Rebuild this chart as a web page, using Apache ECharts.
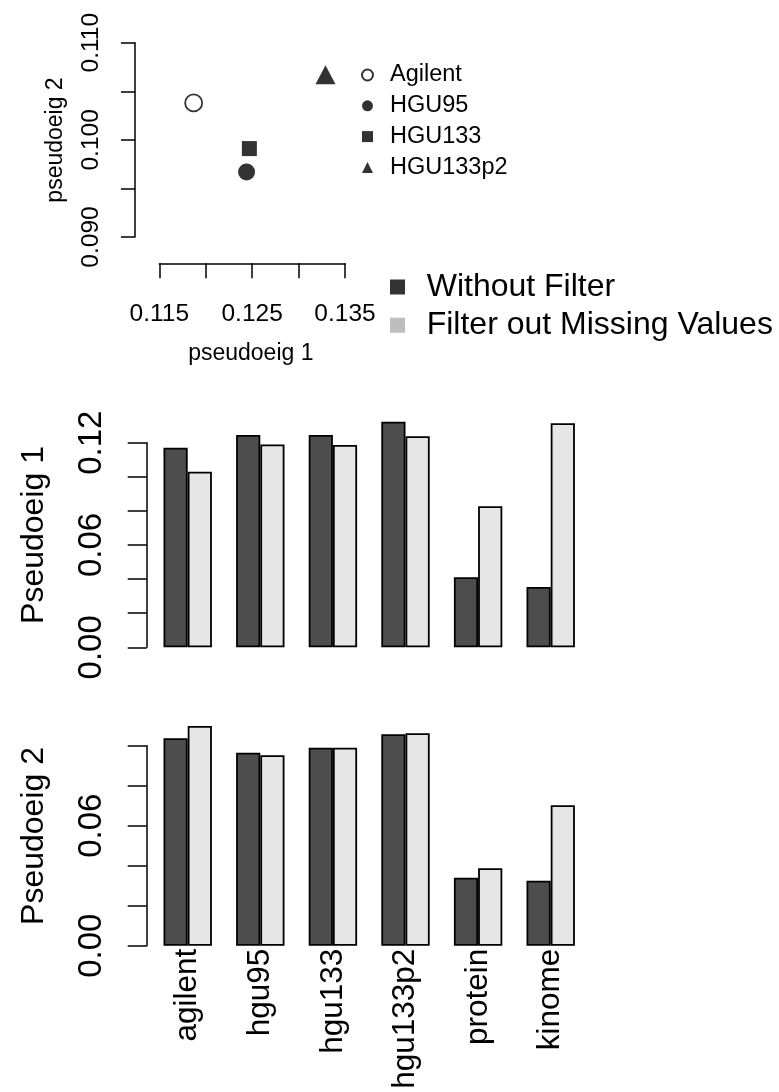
<!DOCTYPE html>
<html>
<head>
<meta charset="utf-8">
<script src="https://cdn.jsdelivr.net/npm/echarts@6/dist/echarts.min.js"></script>
<style>
html,body{margin:0;padding:0;background:#fff;}
#chart{width:779px;height:1092px;}
</style>
</head>
<body>
<div id="chart"></div>
<script>
// ---------- data ----------
const arrayNames = ['Agilent', 'HGU95', 'HGU133', 'HGU133p2'];
const pseudo1 = [0.1187, 0.1244, 0.1247, 0.1329];
const pseudo2 = [0.1038, 0.0967, 0.0991, 0.1064];

const platforms = ['agilent', 'hgu95', 'hgu133', 'hgu133p2', 'protein', 'kinome'];
const seriesNames = ['Without Filter', 'Filter out Missing Values'];
const eig1Without = [0.1171, 0.1245, 0.1245, 0.1323, 0.0411, 0.0354];
const eig1Filter  = [0.1030, 0.1190, 0.1187, 0.1238, 0.0827, 0.1314];
const eig2Without = [0.1037, 0.0965, 0.0990, 0.1057, 0.0340, 0.0325];
const eig2Filter  = [0.1099, 0.0952, 0.0990, 0.1062, 0.0387, 0.0702];

const scatterXTicks = ['0.115', '0.125', '0.135'];
const scatterYTicks = ['0.090', '0.100', '0.110'];
const barYTicks = ['0.00', '0.06', '0.12'];

// ---------- styling ----------
const FONT = 'Liberation Sans, Arial, Helvetica, sans-serif';
const BLACK = '#000';
const axisLine = { show: true, onZero: false, lineStyle: { color: BLACK, width: 1.5 } };
function fmt(list, digits) {
  return function (v) { const s = v.toFixed(digits); return list.indexOf(s) >= 0 ? s : ''; };
}

const symbols = [
  { symbol: 'circle', size: 17, style: { color: '#fff', borderColor: BLACK, borderWidth: 1.8 }, offset: [0, 0] },
  { symbol: 'circle', size: 17, style: { color: BLACK }, offset: [0, 0] },
  { symbol: 'rect', size: 15, style: { color: BLACK }, offset: [0, 0] },
  { symbol: 'triangle', size: [20, 19], style: { color: BLACK }, offset: [0, -3] }
];

const scatterSeries = arrayNames.map((n, i) => ({
  type: 'scatter', name: n, xAxisIndex: 0, yAxisIndex: 0,
  symbol: symbols[i].symbol, symbolSize: symbols[i].size, symbolOffset: symbols[i].offset,
  itemStyle: symbols[i].style,
  data: [[pseudo1[i], pseudo2[i]]],
  silent: true
}));

function barSeries(name, data, idx, color) {
  return {
    type: 'bar', name: name, xAxisIndex: idx, yAxisIndex: idx, data: data,
    barWidth: 24.2, barGap: '0%', clip: false, silent: true,
    itemStyle: { color: color, borderColor: BLACK, borderWidth: 1.8 }
  };
}

const option = {
  animation: false,
  backgroundColor: '#fff',
  textStyle: { fontFamily: FONT },
  grid: [
    { left: 159.3, top: 42.7, width: 185.7, height: 194.3 },
    { left: 151.4, top: 442.7, width: 435.6, height: 204.6 },
    { left: 151.4, top: 745.7, width: 435.6, height: 200 }
  ],
  xAxis: [
    {
      type: 'value', gridIndex: 0, min: 0.115, max: 0.135, interval: 0.005,
      position: 'bottom', offset: 26.3,
      axisLine: axisLine,
      axisTick: { show: true, length: 15, lineStyle: { color: BLACK, width: 1.5 } },
      axisLabel: { fontSize: 24.5, color: BLACK, fontFamily: FONT, margin: 38, formatter: fmt(scatterXTicks, 3) },
      splitLine: { show: false }
    },
    {
      type: 'category', gridIndex: 1, data: platforms,
      axisLine: { show: false }, axisTick: { show: false }, axisLabel: { show: false }
    },
    {
      type: 'category', gridIndex: 2, data: platforms,
      axisLine: { show: false }, axisTick: { show: false },
      axisLabel: { show: true, interval: 0, rotate: 90, fontSize: 31.5, color: BLACK, fontFamily: FONT, margin: 3, padding: [12, 0, 0, 0] }
    }
  ],
  yAxis: [
    {
      type: 'value', gridIndex: 0, min: 0.09, max: 0.11, interval: 0.005,
      position: 'left', offset: 24.3,
      axisLine: axisLine,
      axisTick: { show: true, length: 14, lineStyle: { color: BLACK, width: 1.5 } },
      axisLabel: { rotate: 90, fontSize: 24.5, color: BLACK, fontFamily: FONT, margin: 31, formatter: fmt(scatterYTicks, 3) },
      splitLine: { show: false }
    },
    {
      type: 'value', gridIndex: 1, min: 0, max: 0.12, interval: 0.02,
      position: 'left', offset: 4.7,
      axisLine: axisLine,
      axisTick: { show: true, length: 19, lineStyle: { color: BLACK, width: 1.5 } },
      axisLabel: { rotate: 90, fontSize: 33, color: BLACK, fontFamily: FONT, margin: 38, formatter: fmt(barYTicks, 2) },
      splitLine: { show: false }
    },
    {
      type: 'value', gridIndex: 2, min: 0, max: 0.10, interval: 0.02,
      position: 'left', offset: 4.7,
      axisLine: axisLine,
      axisTick: { show: true, length: 19, lineStyle: { color: BLACK, width: 1.5 } },
      axisLabel: { rotate: 90, fontSize: 33, color: BLACK, fontFamily: FONT, margin: 38, formatter: fmt(barYTicks, 2) },
      splitLine: { show: false }
    }
  ],
  legend: [
    {
      orient: 'vertical', left: 361, top: 63, padding: 0, itemWidth: 11, itemHeight: 11, itemGap: 6.8,
      selectedMode: false,
      textStyle: { fontSize: 23.5, color: BLACK, fontFamily: FONT, padding: [0, 0, 0, 12] },
      data: arrayNames
    },
    {
      orient: 'vertical', left: 390, top: 271, padding: 0, itemWidth: 15, itemHeight: 15, itemGap: 6.2,
      selectedMode: false, icon: 'rect',
      textStyle: { fontSize: 32, color: BLACK, fontFamily: FONT, padding: [0, 0, 0, 16.7] },
      data: [
        { name: seriesNames[0], itemStyle: { color: '#333333', borderWidth: 0 } },
        { name: seriesNames[1], itemStyle: { color: '#bebebe', borderWidth: 0 } }
      ]
    }
  ],
  graphic: [
    { type: 'text', x: 250.8, y: 354, style: { text: 'pseudoeig 1', fontSize: 23, fontFamily: FONT, fill: BLACK, textAlign: 'center', textVerticalAlign: 'middle' } },
    { type: 'text', x: 56, y: 140, rotation: Math.PI / 2, style: { text: 'pseudoeig 2', fontSize: 23, fontFamily: FONT, fill: BLACK, textAlign: 'center', textVerticalAlign: 'middle' } },
    { type: 'text', x: 34, y: 535, rotation: Math.PI / 2, style: { text: 'Pseudoeig 1', fontSize: 32, fontFamily: FONT, fill: BLACK, textAlign: 'center', textVerticalAlign: 'middle' } },
    { type: 'text', x: 34, y: 836, rotation: Math.PI / 2, style: { text: 'Pseudoeig 2', fontSize: 32, fontFamily: FONT, fill: BLACK, textAlign: 'center', textVerticalAlign: 'middle' } }
  ],
  series: scatterSeries.concat([
    barSeries(seriesNames[0], eig1Without, 1, '#4d4d4d'),
    barSeries(seriesNames[1], eig1Filter, 1, '#e6e6e6'),
    barSeries(seriesNames[0], eig2Without, 2, '#4d4d4d'),
    barSeries(seriesNames[1], eig2Filter, 2, '#e6e6e6')
  ])
};

const chart = echarts.init(document.getElementById('chart'), null, { renderer: 'canvas' });
chart.setOption(option);
</script>
</body>
</html>
